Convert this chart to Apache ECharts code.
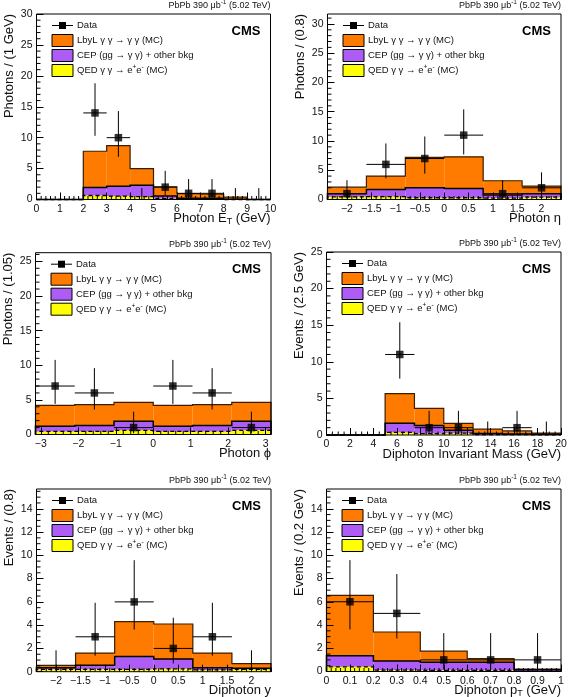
<!DOCTYPE html>
<html><head><meta charset="utf-8">
<script src="https://cdn.jsdelivr.net/npm/echarts@6/dist/echarts.min.js"></script>
<style>html,body{margin:0;padding:0;background:#fff}#c{width:570px;height:697px}</style>
</head><body><div id="c"></div>
<script>
// ---------- Panel 1: Photon E_T ----------
const etEdges = [0,1,2,3,4,5,6,7,8,9,10];
const etQED   = [0,0,0.65,0.55,0.45,0.15,0.05,0.05,0,0];
const etCEP   = [0,0,1.3,1.6,1.85,0.4,0.15,0.15,0.05,0];
const etLbyL  = [0,0,5.85,6.55,2.7,1.5,0.75,0.65,0.35,0];
const etData  = [null,null,14,10,0,2,1,1,0,0];
const etErrLo = [null,null,10.3,6.9,0,0.71,0.17,0.17,0,0];
const etErrHi = [null,null,18.8,14.3,1.84,4.64,3.3,3.3,1.84,1.84];
const etXTicks = [0,1,2,3,4,5,6,7,8,9,10];
const etYTicks = [0,5,10,15,20,25,30];

// ---------- Panel 2: Photon eta ----------
const etaEdges = [-2.4,-1.6,-0.8,0,0.8,1.6,2.4];
const etaQED   = [0.45,0.5,0.3,0.3,0.25,0.4];
const etaCEP   = [0.55,1.2,1.7,1.6,0.5,0.6];
const etaLbyL  = [1.1,2.3,5.2,5.4,2.45,1.3];
const etaData  = [1,6,7,11,1,2];
const etaErrLo = [0.17,3.62,4.42,7.7,0.17,0.71];
const etaErrHi = [3.3,9.58,10.77,15.4,3.3,4.64];
const etaXTicks = [-2,-1.5,-1,-0.5,0,0.5,1,1.5,2];
const etaYTicks = [0,5,10,15,20,25,30];

// ---------- Panel 3: Photon phi ----------
const phiEdges = [-3.1416,-2.0944,-1.0472,0,1.0472,2.0944,3.1416];
const phiQED   = [0.45,0.45,0.6,0.45,0.45,0.6];
const phiCEP   = [0.75,0.85,1.3,0.75,0.85,1.3];
const phiLbyL  = [3.0,3.0,2.75,3.0,3.0,2.75];
const phiData  = [7,6,1,7,6,1];
const phiErrLo = [4.42,3.62,0.17,4.42,3.62,0.17];
const phiErrHi = [10.77,9.58,3.3,10.77,9.58,3.3];
const phiXTicks = [-3,-2,-1,0,1,2,3];
const phiYTicks = [0,5,10,15,20,25];

// ---------- Panel 4: Diphoton invariant mass ----------
const massEdges = [0,2.5,5,7.5,10,12.5,15,17.5,20];
const massQED   = [0,0,0.35,0.2,0.25,0.05,0.05,0.02];
const massCEP   = [0,0,1.25,1.1,0.4,0.15,0.1,0.08];
const massLbyL  = [0,0,4.05,2.35,0.95,0.6,0.4,0.15];
const massData  = [null,null,11,1,1,0,1,0];
const massErrLo = [null,null,7.7,0.17,0.17,0,0.17,0];
const massErrHi = [null,null,15.4,3.3,3.3,1.84,3.3,1.84];
const massXTicks = [0,2,4,6,8,10,12,14,16,18,20];
const massYTicks = [0,5,10,15,20,25];

// ---------- Panel 5: Diphoton rapidity ----------
const yEdges = [-2.4,-1.6,-0.8,0,0.8,1.6,2.4];
const yQED   = [0.2,0.2,0.2,0.25,0.15,0.2];
const yCEP   = [0.15,0.35,1.1,0.85,0.2,0.1];
const yLbyL  = [0.2,1.05,3.0,3.0,1.25,0.4];
const yData  = [0,3,6,2,3,0];
const yErrLo = [0,1.37,3.62,0.71,1.37,0];
const yErrHi = [1.84,5.92,9.58,4.64,5.92,1.84];
const yXTicks = [-2,-1.5,-1,-0.5,0,0.5,1,1.5,2];
const yYTicks = [0,2,4,6,8,10,12,14];

// ---------- Panel 6: Diphoton pT ----------
const ptEdges = [0,0.2,0.4,0.6,0.8,1.0];
const ptQED   = [0.4,0.12,0.1,0.1,0.02];
const ptCEP   = [0.95,0.78,0.7,0.7,0.13];
const ptLbyL  = [5.2,2.5,0.95,0.3,0.05];
const ptData  = [6,5,1,1,1];
const ptErrLo = [3.62,2.84,0.17,0.17,0.17];
const ptErrHi = [9.58,8.38,3.3,3.3,3.3];
const ptXTicks = [0,0.1,0.2,0.3,0.4,0.5,0.6,0.7,0.8,0.9,1];
const ptYTicks = [0,2,4,6,8,10,12,14];

const legendNames = ['Data', 'LbyL γ γ → γ γ (MC)', 'CEP (gg → γ γ) + other bkg', 'QED γ γ → e{sup|+}e{sup|-} (MC)'];

const FONT = '"Liberation Sans", Arial, Helvetica, sans-serif';
const C_LBYL = '#ff7b00', C_CEP = '#ad5cf6', C_QED = '#ffff00';
const TXT = '#111';

const panels = [
  {edges: etEdges, qed: etQED, cep: etCEP, lbyl: etLbyL, data: etData, lo: etErrLo, hi: etErrHi,
   xTicks: etXTicks, yTicks: etYTicks, xMinor: 0.2, yMinor: 1, yMax: 30,
   frame: {L: 36.5, T: 14, R: 270.5, B: 199.5},
   xTitle: '{n|Photon E}{sub|T}{n| (GeV)}', yTitle: 'Photons / (1 GeV)'},
  {edges: etaEdges, qed: etaQED, cep: etaCEP, lbyl: etaLbyL, data: etaData, lo: etaErrLo, hi: etaErrHi,
   xTicks: etaXTicks, yTicks: etaYTicks, xMinor: 0.1, yMinor: 1, yMax: 31.7,
   frame: {L: 327.5, T: 14, R: 561, B: 199.5},
   xTitle: '{n|Photon η}', yTitle: 'Photons / (0.8)'},
  {edges: phiEdges, qed: phiQED, cep: phiCEP, lbyl: phiLbyL, data: phiData, lo: phiErrLo, hi: phiErrHi,
   xTicks: phiXTicks, yTicks: phiYTicks, xMinor: 0.2, yMinor: 1, yMax: 26.25,
   frame: {L: 35.5, T: 252.7, R: 271, B: 434.5},
   xTitle: '{n|Photon ϕ}', yTitle: 'Photons / (1.05)'},
  {edges: massEdges, qed: massQED, cep: massCEP, lbyl: massLbyL, data: massData, lo: massErrLo, hi: massErrHi,
   xTicks: massXTicks, yTicks: massYTicks, xMinor: 0.5, yMinor: 1, yMax: 25,
   frame: {L: 326.5, T: 252, R: 561, B: 435},
   xTitle: '{n|Diphoton Invariant Mass (GeV)}', yTitle: 'Events / (2.5 GeV)'},
  {edges: yEdges, qed: yQED, cep: yCEP, lbyl: yLbyL, data: yData, lo: yErrLo, hi: yErrHi,
   xTicks: yXTicks, yTicks: yYTicks, xMinor: 0.1, yMinor: 0.5, yMax: 15.7,
   frame: {L: 36.5, T: 489, R: 271, B: 671.7},
   xTitle: '{n|Diphoton y}', yTitle: 'Events / (0.8)'},
  {edges: ptEdges, qed: ptQED, cep: ptCEP, lbyl: ptLbyL, data: ptData, lo: ptErrLo, hi: ptErrHi,
   xTicks: ptXTicks, yTicks: ptYTicks, xMinor: 0.02, yMinor: 0.5, yMax: 15.7,
   frame: {L: 326.5, T: 489, R: 561, B: 671.5},
   xTitle: '{n|Diphoton p}{sub|T}{n| (GeV)}', yTitle: 'Events / (0.2 GeV)'}
];

function fmt(v) {
  const s = String(Math.round(v * 1000) / 1000);
  return s.replace('-', '\u2212');
}

function minorVals(min, max, step) {
  const out = [];
  const start = Math.ceil(min / step - 1e-6);
  for (let k = start; k * step <= max + 1e-9; k++) out.push(k * step);
  return out;
}

function fillRenderer(p) {
  return function (params, api) {
    const i = params.dataIndex;
    const x0 = p.edges[i], x1 = p.edges[i + 1];
    const layers = [[p.qed[i], C_QED], [p.cep[i], C_CEP], [p.lbyl[i], C_LBYL]];
    let base = 0;
    const children = [];
    for (const [v, col] of layers) {
      if (v > 0) {
        const a = api.coord([x0, base + v]), b = api.coord([x1, base]);
        children.push({type: 'rect', shape: {x: a[0], y: a[1], width: b[0] - a[0], height: b[1] - a[1]},
          style: {fill: col, stroke: null}});
      }
      base += v;
    }
    return {type: 'group', children};
  };
}

function stepPts(api, edges, tops) {
  const pts = [api.coord([edges[0], 0])];
  for (let i = 0; i < tops.length; i++) {
    pts.push(api.coord([edges[i], tops[i]]));
    pts.push(api.coord([edges[i + 1], tops[i]]));
  }
  pts.push(api.coord([edges[edges.length - 1], 0]));
  return pts;
}

function outlineRenderer(p) {
  return function (params, api) {
    const q = p.qed;
    const c = p.cep.map((v, i) => v + q[i]);
    const t = p.lbyl.map((v, i) => v + c[i]);
    return {type: 'group', children: [
      {type: 'polyline', shape: {points: stepPts(api, p.edges, t)}, style: {stroke: '#3b1d00', lineWidth: 1.2, fill: null}},
      {type: 'polyline', shape: {points: stepPts(api, p.edges, c)}, style: {stroke: '#000', lineWidth: 1.5, fill: null}},
      {type: 'polyline', shape: {points: stepPts(api, p.edges, q)}, style: {stroke: '#000', lineWidth: 1.3, lineDash: [4, 3], fill: null}}
    ]};
  };
}

function errRenderer(p, idxs) {
  return function (params, api) {
    const i = idxs[params.dataIndex];
    const x0 = p.edges[i], x1 = p.edges[i + 1], xc = (x0 + x1) / 2;
    const children = [];
    const a = api.coord([xc, p.lo[i]]), b = api.coord([xc, p.hi[i]]);
    children.push({type: 'line', shape: {x1: a[0], y1: a[1], x2: b[0], y2: b[1]}, style: {stroke: '#000', lineWidth: 1}});
    if (p.data[i] > 0) {
      const l = api.coord([x0, p.data[i]]), r = api.coord([x1, p.data[i]]);
      children.push({type: 'line', shape: {x1: l[0], y1: l[1], x2: r[0], y2: r[1]}, style: {stroke: '#000', lineWidth: 1}});
    }
    return {type: 'group', children};
  };
}

function minorRenderer(p) {
  return function (params, api) {
    const xmin = p.edges[0], xmax = p.edges[p.edges.length - 1];
    const children = [];
    minorVals(xmin, xmax, p.xMinor).forEach(v => {
      if (p.xTicks.some(t => Math.abs(t - v) < 1e-6)) return;
      const pt = api.coord([v, 0]);
      children.push({type: 'line', shape: {x1: pt[0], y1: pt[1], x2: pt[0], y2: pt[1] - 3.5}, style: {stroke: '#000', lineWidth: 1}});
    });
    minorVals(0, p.yMax, p.yMinor).forEach(v => {
      if (p.yTicks.some(t => Math.abs(t - v) < 1e-6)) return;
      const pt = api.coord([xmin, v]);
      children.push({type: 'line', shape: {x1: pt[0], y1: pt[1], x2: pt[0] + 4, y2: pt[1]}, style: {stroke: '#000', lineWidth: 1}});
    });
    return {type: 'group', children};
  };
}

const grids = [], xAxes = [], yAxes = [], series = [], gfx = [];
panels.forEach((p, gi) => {
  const f = p.frame;
  grids.push({left: f.L, top: f.T, width: f.R - f.L, height: f.B - f.T, show: false, containLabel: false, outerBoundsMode: 'none'});
  xAxes.push({type: 'value', gridIndex: gi, position: 'bottom', min: p.edges[0], max: p.edges[p.edges.length - 1], z: 10,
    splitLine: {show: false}, axisLine: {show: false, onZero: false},
    axisTick: {show: true, inside: true, length: 7, customValues: p.xTicks, lineStyle: {color: '#000', width: 1}},
    axisLabel: {customValues: p.xTicks, margin: 4, fontSize: 10.5, color: TXT, fontFamily: FONT, formatter: fmt, hideOverlap: false}});
  yAxes.push({type: 'value', gridIndex: gi, position: 'left', min: 0, max: p.yMax, z: 10,
    splitLine: {show: false}, axisLine: {show: false, onZero: false},
    axisTick: {show: true, inside: true, length: 7, customValues: p.yTicks, lineStyle: {color: '#000', width: 1}},
    axisLabel: {customValues: p.yTicks, margin: 4, fontSize: 10.5, color: TXT, fontFamily: FONT, formatter: fmt, hideOverlap: false}});

  const centers = p.edges.slice(0, -1).map((e, i) => (e + p.edges[i + 1]) / 2);
  series.push({type: 'custom', xAxisIndex: gi, yAxisIndex: gi, z: 2, silent: true,
    data: centers.map(c => [c, 0]), encode: {x: 0, y: 1}, renderItem: fillRenderer(p)});
  series.push({type: 'custom', xAxisIndex: gi, yAxisIndex: gi, z: 3, silent: true,
    data: [[centers[0], 0]], encode: {x: 0, y: 1}, renderItem: outlineRenderer(p)});
  const idxs = [];
  p.data.forEach((v, i) => { if (v !== null) idxs.push(i); });
  series.push({type: 'custom', xAxisIndex: gi, yAxisIndex: gi, z: 4, silent: true,
    data: idxs.map(i => [centers[i], p.data[i]]), encode: {x: 0, y: 1}, renderItem: errRenderer(p, idxs)});
  series.push({type: 'scatter', xAxisIndex: gi, yAxisIndex: gi, z: 5, silent: true,
    symbol: 'rect', symbolSize: 7.5, itemStyle: {color: '#000'},
    data: idxs.filter(i => p.data[i] > 0).map(i => [centers[i], p.data[i]])});
  series.push({type: 'custom', xAxisIndex: gi, yAxisIndex: gi, z: 11, silent: true,
    data: [[centers[0], 0]], encode: {x: 0, y: 1}, renderItem: minorRenderer(p)});

  // frame
  gfx.push({type: 'rect', z: 50, shape: {x: f.L, y: f.T, width: f.R - f.L, height: f.B - f.T},
    style: {fill: null, stroke: '#000', lineWidth: 1}});
  // header
  gfx.push({type: 'text', z: 50, x: f.R, y: f.T - 8.5, style: {
    text: '{a|PbPb 390 μb}{s|-1}{a| (5.02 TeV)}', align: 'right', verticalAlign: 'middle',
    rich: {a: {fontSize: 9, fontFamily: FONT, fill: TXT, color: TXT},
           s: {fontSize: 6.5, fontFamily: FONT, fill: TXT, color: TXT, padding: [0, 0, 6, 0]}}}});
  // CMS
  gfx.push({type: 'text', z: 50, x: f.R - 10, y: f.T + 17, style: {
    text: 'CMS', align: 'right', verticalAlign: 'middle', font: 'bold 13px ' + FONT, fill: '#000'}});
  // legend
  const bx = f.L + 15.5, bw = 21, bh = 12, tx = f.L + 40.5;
  const rows = [f.T + 11.5, f.T + 26.5, f.T + 41.5, f.T + 56.5];
  gfx.push({type: 'line', z: 50, shape: {x1: bx, y1: rows[0], x2: bx + bw, y2: rows[0]}, style: {stroke: '#000', lineWidth: 1}});
  gfx.push({type: 'rect', z: 51, shape: {x: bx + bw / 2 - 3.5, y: rows[0] - 3.5, width: 7, height: 7}, style: {fill: '#000'}});
  const cols = [C_LBYL, C_CEP, C_QED];
  for (let k = 1; k < 4; k++) {
    gfx.push({type: 'rect', z: 50, shape: {x: bx, y: rows[k] - bh / 2, width: bw, height: bh},
      style: {fill: cols[k - 1], stroke: '#000', lineWidth: 1}});
  }
  for (let k = 0; k < 4; k++) {
    gfx.push({type: 'text', z: 50, x: tx, y: rows[k], style: {
      text: '{n|' + legendNames[k].replace(/\{sup\|([^}]*)\}/g, '}{sup|$1}{n|') + '}',
      align: 'left', verticalAlign: 'middle',
      rich: {n: {fontSize: 9.5, fontFamily: FONT, fill: TXT, color: TXT},
             sup: {fontSize: 6.5, fontFamily: FONT, fill: TXT, color: TXT, padding: [0, 0, 6, 0]}}}});
  }
  // axis titles
  gfx.push({type: 'text', z: 50, x: f.R, y: f.B + 19, style: {
    text: p.xTitle, align: 'right', verticalAlign: 'middle',
    rich: {n: {fontSize: 13, fontFamily: FONT, fill: TXT, color: TXT},
           sub: {fontSize: 9, fontFamily: FONT, fill: TXT, color: TXT, padding: [7, 0, 0, 0]}}}});
  gfx.push({type: 'text', z: 50, x: f.L - 27, y: f.T, rotation: Math.PI / 2, style: {
    text: p.yTitle, align: 'right', verticalAlign: 'middle', font: '13px ' + FONT, fill: TXT}});
});

const chart = echarts.init(document.getElementById('c'), null, {renderer: 'canvas'});
chart.setOption({
  animation: false,
  backgroundColor: '#fff',
  grid: grids, xAxis: xAxes, yAxis: yAxes, series: series,
  graphic: {elements: gfx}
});
</script>
</body></html>
